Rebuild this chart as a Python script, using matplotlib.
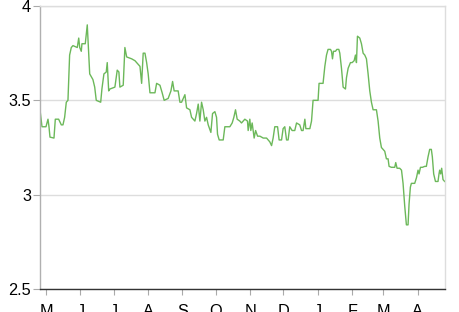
"""
Green line over one year, monthly ticks
"""
import datetime as dt
import matplotlib
matplotlib.use("Agg")
import matplotlib.pyplot as plt
import matplotlib.dates as mdates
import numpy as np

start = dt.datetime(2012, 5, 1)

# day offsets from May 1 and values
days = [-5.4, -3.6, 0.0, 1.8, 2.7, 3.6, 7.2, 8.4, 11.4, 13.8, 15.3, 16.8, 18.3, 19.8,
        21.3, 22.8, 24.3, 28.2, 29.5, 30.4, 31.8, 32.4, 35.4, 37.2, 38.5, 39.4, 42.3,
        43.9, 45.3, 49.3, 50.4, 52.2, 54.3, 55.2, 56.5, 57.6, 62.1, 64.2, 65.7, 66.6,
        69.6, 71.1, 72.7, 77.2, 80.2, 81.7, 84.7, 86.2, 87.6, 89.2, 90.7, 92.1, 93.7,
        98.2, 99.7, 102.7, 104.7, 106.5, 110.1, 112.6, 114.1, 115.5, 117.7, 119.1,
        120.7, 122.2, 125.2, 126.7, 129.7, 131.2, 134.2, 135.7, 137.2, 138.7, 140.2,
        141.7, 143.2, 144.7, 146.2, 148.6, 150.1, 152.2, 153.7, 154.6, 156.1, 159.7,
        161.2, 165.7, 167.8, 169.3, 170.8, 172.3, 174.7, 176.2, 177.7, 179.2, 181.6,
        182.2, 183.7, 184.6, 185.8, 187.6, 188.9, 190.7, 192.8, 195.8, 198.8, 201.7,
        203.3, 204.7, 206.2, 208.7, 210.1, 212.3, 213.7, 215.2, 216.8, 218.2, 219.7,
        221.8, 224.2, 225.8, 228.7, 230.3, 231.7, 233.3, 234.2, 237.8, 239.3, 240.7,
        245.2, 246.1, 249.7, 251.3, 252.8, 254.2, 256.4, 257.3, 258.2, 259.1, 260.9,
        262.1, 263.9, 264.8, 266.3, 267.8, 269.9, 270.8, 272.3, 274.4, 275.9, 277.7,
        278.9, 279.8, 280.7, 282.8, 284.3, 285.8, 287.3, 288.8, 290.3, 291.8, 293.3,
        294.8, 297.8, 299.3, 300.8, 302.3, 305.3, 306.8, 308.3, 309.2, 311.3, 314.3,
        315.2, 316.4, 318.8, 320.4, 321.8, 323.3, 324.8, 326.3, 327.2, 328.4, 329.3,
        332.3, 333.9, 335.3, 336.2, 337.5, 339.3, 341.3, 342.8, 344.3, 345.8, 347.3,
        348.2, 349.4, 351.0, 353.3, 354.2, 354.8, 355.7, 356.6, 357.8, 359.3]
values = [3.45, 3.36, 3.36, 3.40, 3.36, 3.305, 3.30, 3.40, 3.40, 3.37, 3.37, 3.41, 3.49, 3.50,
          3.74, 3.78, 3.79, 3.78, 3.83, 3.78, 3.76, 3.80, 3.80, 3.90, 3.75, 3.64, 3.61,
          3.57, 3.50, 3.49, 3.56, 3.64, 3.65, 3.70, 3.55, 3.56, 3.57, 3.66, 3.65, 3.57,
          3.58, 3.78, 3.73, 3.72, 3.71, 3.70, 3.68, 3.59, 3.75, 3.75, 3.70, 3.64, 3.54,
          3.54, 3.59, 3.58, 3.54, 3.50, 3.51, 3.55, 3.60, 3.55, 3.55, 3.55,
          3.49, 3.49, 3.53, 3.46, 3.45, 3.41, 3.39, 3.43, 3.48, 3.39, 3.49,
          3.45, 3.39, 3.41, 3.37, 3.33, 3.43, 3.44, 3.41, 3.32, 3.29, 3.29,
          3.36, 3.36, 3.38, 3.41, 3.45, 3.40, 3.39, 3.38, 3.39, 3.40, 3.39,
          3.34, 3.40, 3.34, 3.38, 3.30, 3.34, 3.31, 3.31, 3.30, 3.30, 3.28,
          3.26, 3.30, 3.36, 3.36, 3.29, 3.29, 3.35, 3.36, 3.29, 3.29, 3.36,
          3.34, 3.34, 3.38, 3.37, 3.34, 3.34, 3.40, 3.35, 3.35, 3.39, 3.50,
          3.50, 3.59, 3.59, 3.68, 3.74, 3.77, 3.77, 3.76, 3.72, 3.76, 3.76,
          3.77, 3.77, 3.75, 3.67, 3.57, 3.56, 3.62, 3.67, 3.70, 3.70, 3.71,
          3.74, 3.70, 3.84, 3.83, 3.80, 3.75, 3.74, 3.72, 3.64, 3.55, 3.49,
          3.45, 3.45, 3.39, 3.30, 3.25, 3.23, 3.19, 3.19, 3.15, 3.145, 3.145,
          3.17, 3.14, 3.14, 3.13, 3.06, 2.94, 2.84, 2.84, 2.95, 3.04, 3.06,
          3.06, 3.09, 3.13, 3.11, 3.145, 3.145, 3.15, 3.15, 3.20, 3.24, 3.24,
          3.20, 3.11, 3.07, 3.07, 3.11, 3.13, 3.11, 3.14, 3.08, 3.07]

yticks = [2.5, 3, 3.5, 4]
ytick_labels = ["2.5", "3", "3.5", "4"]

plt.rcParams["font.family"] = ["Liberation Sans", "DejaVu Sans"]

x0 = mdates.date2num(start)
x = x0 + np.array(days)

fig = plt.figure(figsize=(4.59, 3.12), dpi=100)
ax = fig.add_axes([40 / 459, 23 / 312, 405 / 459, 283 / 312])

ax.plot(x, values, color="#6cb85a", lw=1.0)

ax.set_xlim(x0 - 5.4, x0 + 359.6)
ax.set_ylim(2.5, 4)
ax.set_yticks(yticks)
ax.set_yticklabels(ytick_labels)
ax.grid(axis="y", color="#dddddd", lw=1)
ax.set_axisbelow(True)

ax.xaxis.set_major_locator(mdates.MonthLocator())
ax.xaxis.set_major_formatter(
    plt.FuncFormatter(lambda v, p: mdates.num2date(v).strftime("%b")[0]))

ax.tick_params(axis="x", length=4, color="#aaaaaa", labelsize=11.7, pad=7)
ax.tick_params(axis="y", length=5, color="#aaaaaa", labelsize=11.7, pad=1.5)

ax.spines["left"].set_color("#b0b0b0")
ax.spines["right"].set_color("#dddddd")
ax.spines["top"].set_color("#dddddd")
ax.spines["bottom"].set_color("#333333")
for s in ax.spines.values():
    s.set_linewidth(1)

fig.savefig("out.png", dpi=100)
